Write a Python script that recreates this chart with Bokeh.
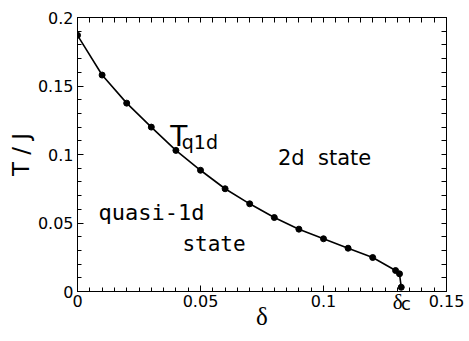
import numpy as np
from bokeh.plotting import figure
from bokeh.models import LinearAxis, FixedTicker, Label, Range1d
from bokeh.embed import file_html
from bokeh.resources import INLINE

# ---- data ----
delta = [0.0, 0.01, 0.02, 0.03, 0.04, 0.05, 0.06, 0.07, 0.08, 0.09,
         0.10, 0.11, 0.12, 0.1293, 0.1309, 0.1316]
t_q1d = [0.187, 0.158, 0.1375, 0.12, 0.103, 0.0885, 0.075, 0.064, 0.054,
         0.0455, 0.0385, 0.0316, 0.0248, 0.0153, 0.0129, 0.0031]

x_ticks = [0.0, 0.05, 0.1, 0.15]
x_tick_labels = ["0", "0.05", "0.1", "0.15"]
y_ticks = [0.0, 0.05, 0.1, 0.15, 0.2]
y_tick_labels = ["0", "0.05", "0.1", "0.15", "0.2"]

SANS = "DejaVu Sans"

p = figure(width=469, height=341,
           x_range=Range1d(0, 0.15), y_range=Range1d(0, 0.2),
           output_backend="svg", toolbar_location=None,
           x_axis_location=None, y_axis_location=None,
           min_border_left=77, min_border_right=23,
           min_border_top=17, min_border_bottom=50)
p.grid.visible = False
p.outline_line_color = "black"
p.background_fill_color = "white"
p.border_fill_color = "white"

x_minor = [round(v, 4) for v in np.arange(0, 0.1501, 0.005)]
y_minor = [round(v, 4) for v in np.arange(0, 0.2001, 0.01)]


def style_axis(ax):
    ax.axis_line_color = "black"
    ax.axis_line_width = 1
    ax.major_tick_in = 6
    ax.major_tick_out = 0
    ax.minor_tick_in = 4
    ax.minor_tick_out = 0
    ax.major_tick_line_color = "black"
    ax.minor_tick_line_color = "black"
    return ax


bottom = style_axis(LinearAxis(ticker=FixedTicker(ticks=x_ticks, minor_ticks=x_minor)))
bottom.major_label_overrides = dict(zip(x_ticks, x_tick_labels))
bottom.major_label_text_font = SANS
bottom.major_label_text_font_size = "16px"
bottom.major_label_text_color = "black"
bottom.major_label_standoff = 3
bottom.axis_label = "δ"
bottom.axis_label_text_font = "Liberation Serif"
bottom.axis_label_text_font_size = "25px"
bottom.axis_label_text_font_style = "normal"
bottom.axis_label_text_color = "black"
bottom.axis_label_standoff = -7

left = style_axis(LinearAxis(ticker=FixedTicker(ticks=y_ticks, minor_ticks=y_minor)))
left.major_label_overrides = dict(zip(y_ticks, y_tick_labels))
left.major_label_text_font = SANS
left.major_label_text_font_size = "16px"
left.major_label_text_color = "black"
left.major_label_standoff = 4
left.axis_label = "T / J"
left.axis_label_text_font = SANS
left.axis_label_text_font_size = "23px"
left.axis_label_text_font_style = "normal"
left.axis_label_text_color = "black"
left.axis_label_standoff = 1

# mirrored tick marks on top and right (no labels)
top = style_axis(LinearAxis(ticker=FixedTicker(ticks=[], minor_ticks=x_minor)))
top.minor_tick_in = 5
right = style_axis(LinearAxis(ticker=FixedTicker(ticks=[], minor_ticks=y_minor)))
right.minor_tick_in = 5

p.add_layout(bottom, "below")
p.add_layout(left, "left")
p.add_layout(top, "above")
p.add_layout(right, "right")

p.line(delta, t_q1d, line_color="black", line_width=1.6)
p.scatter(delta, t_q1d, size=6, fill_color="black", line_color="black")


def lab(text, x, y, size, font=SANS, align="left", place=None):
    lb = Label(x=x, y=y, text=text, text_font=font,
               text_font_size=size, text_align=align,
               text_baseline="alphabetic", text_color="black")
    if place is None:
        p.add_layout(lb)
    else:
        p.add_layout(lb, place)


# delta_c marker label (below the axis, kept in a side panel so it is not clipped)
lab("δ", 0.1282, -0.0078, "21px", font="Liberation Serif", place="right")
lab("c", 0.1315, -0.0089, "18px", place="right")
# curve label
lab("T", 0.0377, 0.1131, "28px")
lab("q1d", 0.0424, 0.109, "19px")
# region labels
lab("2d\u00a0 state", 0.0815, 0.0971, "21px")
lab("quasi-1d", 0.0301, 0.0579, "22px", font="DejaVu Sans Mono", align="center")
lab("state", 0.0555, 0.035, "21px", font="DejaVu Sans Mono", align="center")

open("out.html", "w").write(file_html(p, INLINE))
